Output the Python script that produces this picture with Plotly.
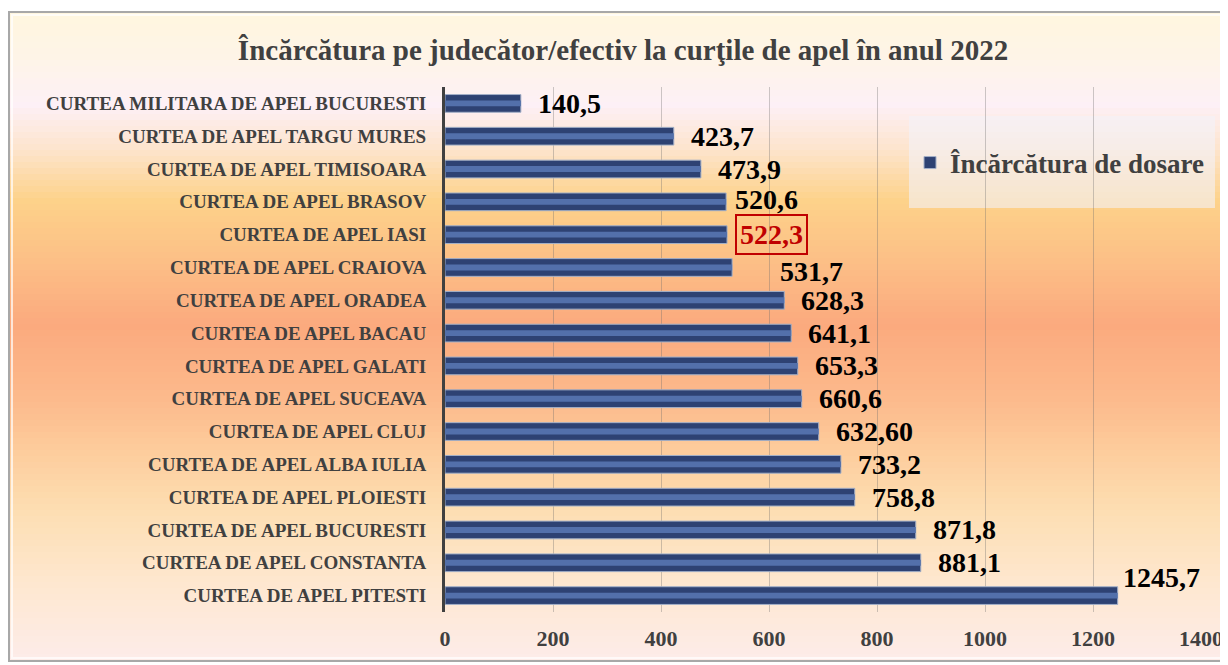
import plotly.graph_objects as go

# data, top to bottom as in the original chart
courts = [
    "CURTEA MILITARA DE APEL BUCURESTI",
    "CURTEA DE APEL TARGU MURES",
    "CURTEA DE APEL TIMISOARA",
    "CURTEA DE APEL BRASOV",
    "CURTEA DE APEL IASI",
    "CURTEA DE APEL CRAIOVA",
    "CURTEA DE APEL ORADEA",
    "CURTEA DE APEL BACAU",
    "CURTEA DE APEL GALATI",
    "CURTEA DE APEL SUCEAVA",
    "CURTEA DE APEL CLUJ",
    "CURTEA DE APEL ALBA IULIA",
    "CURTEA DE APEL PLOIESTI",
    "CURTEA DE APEL BUCURESTI",
    "CURTEA DE APEL CONSTANTA",
    "CURTEA DE APEL PITESTI",
]
load = [140.5, 423.7, 473.9, 520.6, 522.3, 531.7, 628.3, 641.1,
        653.3, 660.6, 692.0, 733.2, 758.8, 871.8, 881.1, 1245.7]
load_labels = ["140,5", "423,7", "473,9", "520,6", "522,3", "531,7", "628,3", "641,1",
               "653,3", "660,6", "632,60", "733,2", "758,8", "871,8", "881,1", "1245,7"]
x_ticks = [0, 200, 400, 600, 800, 1000, 1200, 1400]

series_name = "Încărcătura de dosare"
title = "Încărcătura pe judecător/efectiv la curţile de apel în anul 2022"

# page geometry: the figure sits inside the 8px body margin of the html page
OFF = 8
W, H = 1228 - OFF, 665 - OFF
L, R, T, B = 445, 1201, 87, 612          # plot area in page pixels
SERIF = "Liberation Serif, Times New Roman, serif"


def px_x(p):
    return (p - L) / (R - L)


def px_y(p):
    return (B - p) / (B - T)


# label nudges (x px, y px) for labels moved by hand in the original
nudge = {3: (7, 2), 5: (46, -4), 15: (3, 18)}

fig = go.Figure()
fig.add_trace(go.Bar(
    y=courts, x=load, orientation="h", name="<b>%s</b>" % series_name,
    width=0.54, marker=dict(color="#2e4273", line=dict(color="#a3b0c8", width=1)),
    hoverinfo="x+y",
))
fig.add_trace(go.Bar(
    y=courts, x=load, orientation="h", showlegend=False,
    width=0.18, marker=dict(color="#5370ab", line=dict(width=0)),
    hoverinfo="skip",
))

annotations = []
for i, (c, v, lab) in enumerate(zip(courts, load, load_labels)):
    dx, dy = nudge.get(i, (15, 0))
    a = dict(x=v, y=c, xref="x", yref="y", text="<b>%s</b>" % lab,
             showarrow=False, xanchor="left", yanchor="middle",
             xshift=dx, yshift=dy,
             font=dict(family=SERIF, size=28, color="#000000"))
    if lab == "522,3":
        a.update(xshift=8, bordercolor="#c00000", borderwidth=2, borderpad=3,
                 font=dict(family=SERIF, size=28, color="#c00000"))
    annotations.append(a)

# background: framed panel with a vertical colour gradient
stops = [
    (12, (255, 246, 222)), (60, (254, 244, 232)), (105, (253, 240, 246)),
    (150, (253, 228, 204)), (200, (253, 210, 138)), (265, (252, 190, 134)),
    (325, (251, 170, 126)), (400, (252, 186, 140)), (450, (253, 204, 156)),
    (510, (253, 222, 178)), (590, (254, 232, 210)), (662, (253, 236, 234)),
]


def col_at(p):
    for (p0, c0), (p1, c1) in zip(stops, stops[1:]):
        if p0 <= p <= p1:
            t = (p - p0) / (p1 - p0)
            return "rgb(%d,%d,%d)" % tuple(round(a + (b - a) * t) for a, b in zip(c0, c1))
    return "rgb(%d,%d,%d)" % stops[-1][1]


shapes = []
step = 6
for p in range(12, 662, step):
    shapes.append(dict(type="rect", xref="paper", yref="paper", layer="below",
                       x0=px_x(8), x1=px_x(1240), y0=px_y(p), y1=px_y(min(p + step + 1, 662)),
                       fillcolor=col_at(p + step / 2), line=dict(width=0)))
# frame
shapes.append(dict(type="rect", xref="paper", yref="paper", layer="below",
                   x0=px_x(9), x1=px_x(1240), y0=px_y(661), y1=px_y(12),
                   fillcolor="rgba(0,0,0,0)", line=dict(color="#a8a8a8", width=2)))
shapes.append(dict(type="rect", xref="paper", yref="paper", layer="below",
                   x0=px_x(12), x1=px_x(1240), y0=px_y(658), y1=px_y(15),
                   fillcolor="rgba(0,0,0,0)", line=dict(color="rgba(255,255,255,0.7)", width=2)))
# legend box
shapes.append(dict(type="rect", xref="paper", yref="paper", layer="below",
                   x0=px_x(909), x1=px_x(1215), y0=px_y(208), y1=px_y(116),
                   fillcolor="rgba(244,242,248,0.6)", line=dict(width=0)))

fig.update_layout(
    width=W, height=H,
    margin=dict(l=L - OFF, r=W + OFF - R, t=T - OFF, b=H + OFF - B, pad=0),
    paper_bgcolor="#ffffff", plot_bgcolor="rgba(0,0,0,0)",
    barmode="overlay",
    title=dict(text="<b>%s</b>" % title, x=(623 - OFF) / W, xanchor="center",
               y=1 - (50 - OFF) / H, yanchor="middle",
               font=dict(family=SERIF, size=29, color="#404040")),
    legend=dict(x=px_x(910), y=px_y(163), xanchor="left", yanchor="middle",
                bgcolor="rgba(0,0,0,0)", itemwidth=30,
                font=dict(family=SERIF, size=27, color="#404040")),
    xaxis=dict(range=[0, 1400], tickvals=x_ticks, ticktext=["<b>%d</b>" % t for t in x_ticks],
               showgrid=True, gridcolor="rgba(110,110,110,0.35)", gridwidth=1,
               zeroline=False, showline=False, automargin=False,
               ticklabeloverflow="allow",
               ticks="outside", ticklen=7, tickcolor="rgba(0,0,0,0)",
               tickfont=dict(family=SERIF, size=22, color="#404040")),
    yaxis=dict(range=[len(courts) - 0.5, -0.5], showgrid=False, zeroline=False,
               showline=True, linecolor="#404040", linewidth=3, automargin=False,
               ticks="outside", ticklen=12, tickcolor="rgba(0,0,0,0)",
               tickvals=courts, ticktext=["<b>%s</b>" % c for c in courts],
               tickfont=dict(family=SERIF, size=19, color="#404040")),
    annotations=annotations,
    shapes=shapes,
)

fig.write_html("out.html")
